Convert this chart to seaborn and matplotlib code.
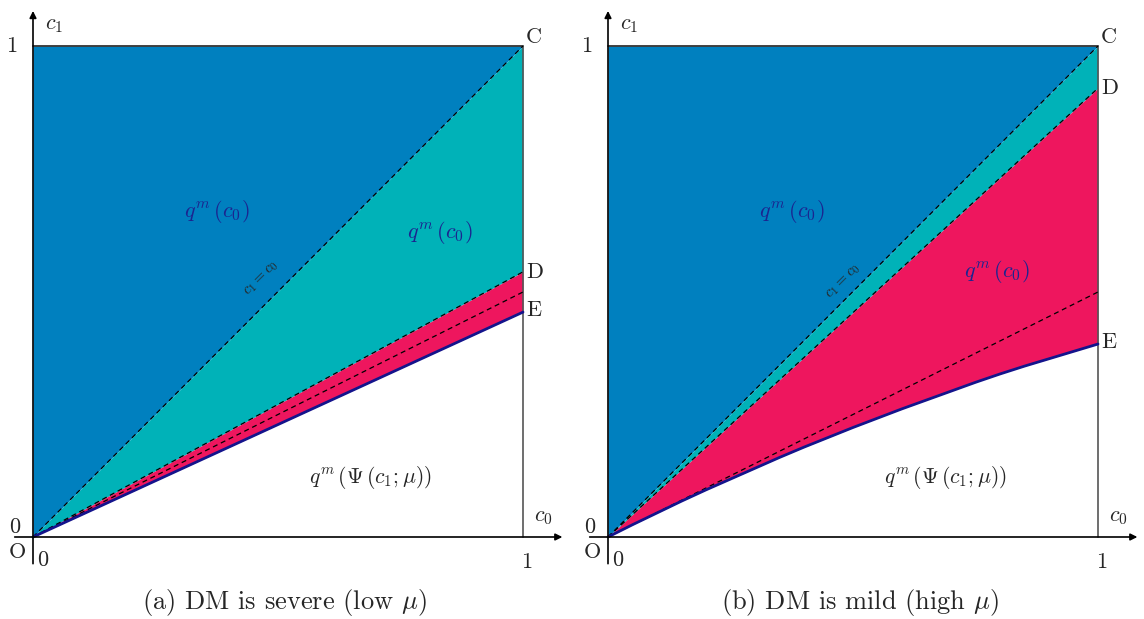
import matplotlib
matplotlib.use("Agg")
import matplotlib.pyplot as plt
import seaborn as sns
import numpy as np

# boundaries (c0 from 0 to 1)
c0_ends = [0.0, 1.0]
diag_ends = [0.0, 1.0]          # c1 = c0, ends at C
dash_ends = [0.0, 0.499]        # middle dashed line

# panel (a): DM is severe
d_ends_a = [0.0, 0.540]         # O -> D
e_ends_a = [0.0, 0.458]         # O -> E (straight)

# panel (b): DM is mild
d_ends_b = [0.0, 0.914]         # O -> D
c0_grid = [0.0, 0.05, 0.1, 0.15, 0.2, 0.25, 0.3, 0.35, 0.4, 0.45, 0.5,
           0.55, 0.6, 0.65, 0.7, 0.75, 0.8, 0.85, 0.9, 0.95, 1.0]
psi_b = [0.0, 0.025, 0.049, 0.073, 0.096, 0.118, 0.140, 0.162, 0.183, 0.203, 0.223,
         0.242, 0.261, 0.279, 0.297, 0.315, 0.332, 0.348, 0.363, 0.378, 0.393]

captions = [r"(a) DM is severe (low $\mu$)", r"(b) DM is mild (high $\mu$)"]

BLUE = "#0080bf"
TEAL = "#00b2b8"
PINK = "#ee165e"
NAVY = "#14148c"
TXT = "#1b2590"

sns.set_style("white")
plt.rcParams["font.family"] = ["cmr10", "DejaVu Serif"]
plt.rcParams["mathtext.fontset"] = "cm"
plt.rcParams["axes.formatter.use_mathtext"] = True

fig = plt.figure(figsize=(11.44, 6.19), dpi=100)

panels = [
    dict(lo_x=c0_ends, lo_y=e_ends_a, d_y=d_ends_a, left=3.6,
         lab2=(0.831, 0.621), cl=(0.467, 0.525)),
    dict(lo_x=c0_grid, lo_y=psi_b, d_y=d_ends_b, left=578.6,
         lab2=(0.794, 0.540), cl=(0.48, 0.52)),
]

for i, p in enumerate(panels):
    ax = fig.add_axes([p["left"] / 1144, 32.9 / 619, 558.6 / 1144, 579.4 / 619])
    ax.set_xlim(-0.06, 1.08)
    ax.set_ylim(-0.1, 1.08)
    ax.axis("off")

    x = np.array(p["lo_x"])
    d_line = np.interp(x, c0_ends, p["d_y"])
    diag = np.interp(x, c0_ends, diag_ends)

    ax.fill_between(c0_ends, diag_ends, [1, 1], color=BLUE, lw=0)
    ax.fill_between(x, d_line, diag, color=TEAL, lw=0)
    ax.fill_between(x, p["lo_y"], d_line, color=PINK, lw=0)

    # frame lines
    ax.plot([0, 1], [1, 1], color="#333333", lw=1.3)
    ax.plot([1, 1], [0, 1], color="#555555", lw=1.2)

    for yy in (diag_ends, p["d_y"], dash_ends):
        ax.plot(c0_ends, yy, color="black", lw=0.9, ls=(0, (4, 3)))

    sns.lineplot(x=p["lo_x"], y=p["lo_y"], ax=ax, color=NAVY, lw=2.0)

    # axes arrows
    ax.annotate("", xy=(1.086, 0), xytext=(-0.043, 0), annotation_clip=False,
                arrowprops=dict(arrowstyle="-|>", color="black", lw=1.2, mutation_scale=10))
    ax.annotate("", xy=(0, 1.077), xytext=(0, -0.06), annotation_clip=False,
                arrowprops=dict(arrowstyle="-|>", color="black", lw=1.2, mutation_scale=10))

    fs = 16
    ax.text(0.024, 1.043, r"$c_1$", fontsize=fs, ha="left", va="center")
    ax.text(-0.043, 1.0, "1", fontsize=fs, ha="center", va="center")
    ax.text(-0.037, 0.02, "0", fontsize=fs, ha="center", va="center")
    ax.text(-0.031, -0.031, "O", fontsize=fs, ha="center", va="center")
    ax.text(0.02, -0.047, "0", fontsize=fs, ha="center", va="center")
    ax.text(1.008, -0.051, "1", fontsize=fs, ha="center", va="center")
    ax.text(1.042, 0.041, r"$c_0$", fontsize=fs, ha="center", va="center")
    ax.text(1.006, 1.018, "C", fontsize=fs, ha="left", va="center")
    ax.text(1.006, p["d_y"][1], "D", fontsize=fs, ha="left", va="center")
    ax.text(1.006, p["lo_y"][-1] + 0.003, "E", fontsize=fs, ha="left", va="center")

    ax.text(0.375, 0.662, r"$q^m\,(c_0)$", fontsize=16, color=TXT,
            ha="center", va="center")
    ax.text(p["lab2"][0], p["lab2"][1], r"$q^m\,(c_0)$", fontsize=16,
            color=TXT, ha="center", va="center")
    ax.text(0.688, 0.122, r"$q^m\,(\Psi\,(c_1;\mu))$", fontsize=15.5,
            ha="center", va="center")
    ax.text(p["cl"][0], p["cl"][1], r"$c_1=c_0$", fontsize=11, rotation=45,
            ha="center", va="center")

    fig.text((p["left"] + 281) / 1144, 1 - 603 / 619, captions[i], fontsize=19,
             ha="center", va="center")

fig.savefig("out.png", dpi=100)
